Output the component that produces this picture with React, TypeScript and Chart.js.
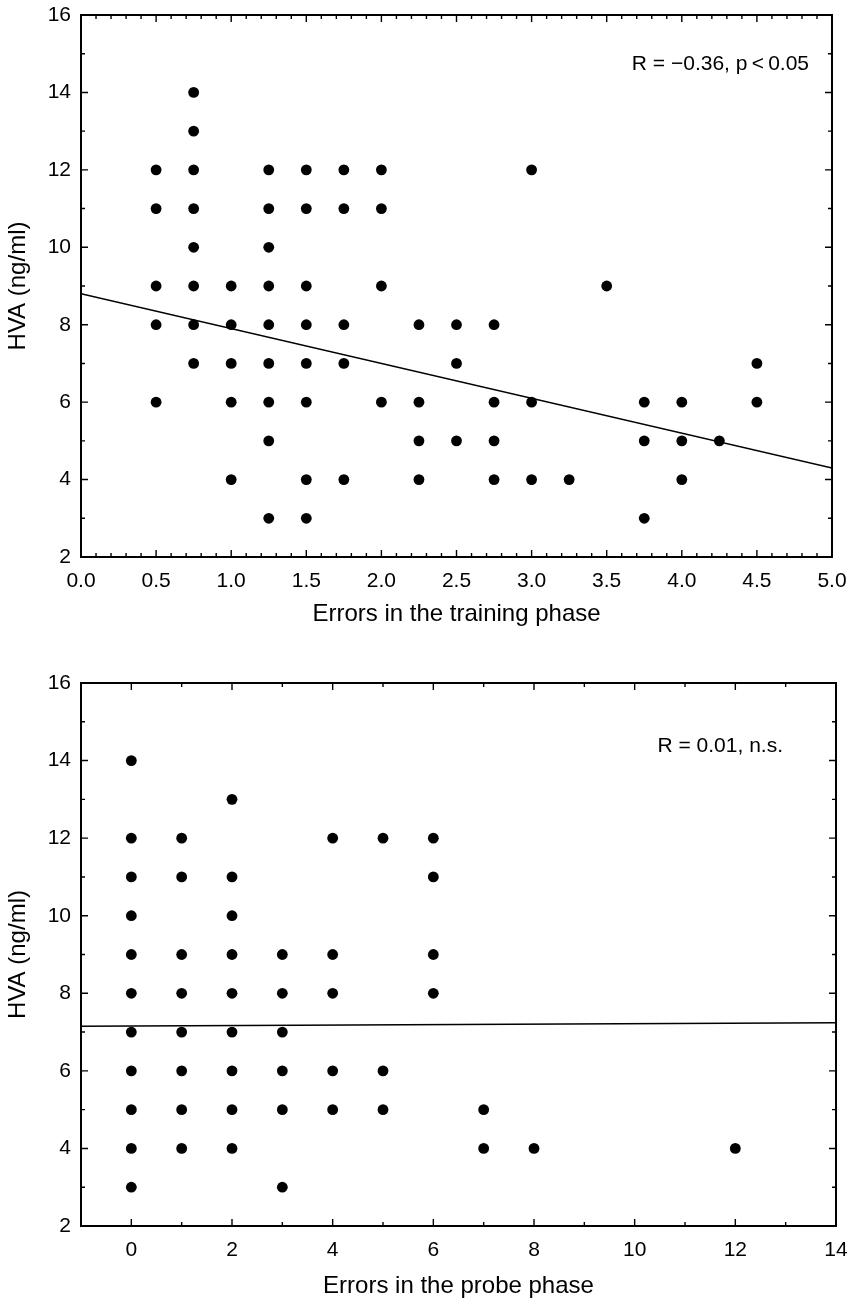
import { useEffect, useRef } from "react";
import { Chart, registerables } from "chart.js";

Chart.register(...registerables);

const FONT_FAMILY = "'Liberation Sans', Arial, Helvetica, sans-serif";

// ---------- Panel A: errors in the training phase ----------
const trainingErrors = [0.5, 0.75, 1.0, 1.25, 1.5, 1.75, 2.0, 2.25, 2.5, 2.75, 3.0, 3.25, 3.5, 3.75, 4.0, 4.25, 4.5];
const trainingHVA = [
  [12, 11, 9, 8, 6],
  [14, 13, 12, 11, 10, 9, 8, 7],
  [9, 8, 7, 6, 4],
  [12, 11, 10, 9, 8, 7, 6, 5, 3],
  [12, 11, 9, 8, 7, 6, 4, 3],
  [12, 11, 8, 7, 4],
  [12, 11, 9, 6],
  [8, 6, 5, 4],
  [8, 7, 5],
  [8, 6, 5, 4],
  [12, 6, 4],
  [4],
  [9],
  [6, 5, 3],
  [6, 5, 4],
  [5],
  [7, 6],
];
const trainingFitX = [0, 5];
const trainingFitY = [8.8, 4.3];
const trainingXTicks = [0, 0.5, 1.0, 1.5, 2.0, 2.5, 3.0, 3.5, 4.0, 4.5, 5.0];
const trainingLabel = "Errors in the training phase";
const trainingStat = "R = \u22120.36, p\u2009<\u20090.05";

// ---------- Panel B: errors in the probe phase ----------
const probeErrors = [0, 1, 2, 3, 4, 5, 6, 7, 8, 12];
const probeHVA = [
  [14, 12, 11, 10, 9, 8, 7, 6, 5, 4, 3],
  [12, 11, 9, 8, 7, 6, 5, 4],
  [13, 11, 10, 9, 8, 7, 6, 5, 4],
  [9, 8, 7, 6, 5, 3],
  [12, 9, 8, 6, 5],
  [12, 6, 5],
  [12, 11, 9, 8],
  [5, 4],
  [4],
  [4],
];
const probeFitX = [-1, 14];
const probeFitY = [7.15, 7.24];
const probeXTicks = [0, 2, 4, 6, 8, 10, 12, 14];
const probeLabel = "Errors in the probe phase";
const probeStat = "R = 0.01, n.s.";

// ---------- shared ----------
const hvaTicks = [2, 4, 6, 8, 10, 12, 14, 16];
const hvaLabel = "HVA (ng/ml)";

const frameTicksPlugin = {
  id: "frameTicks",
  afterDatasetsDraw(chart: any, _args: any, opts: any) {
    const { ctx, chartArea } = chart;
    const { left, right, top, bottom } = chartArea;
    const xs = chart.scales.x;
    const ys = chart.scales.y;
    const steps = (min: number, max: number, step: number) => {
      const out: number[] = [];
      const n = Math.round((max - min) / step);
      for (let i = 0; i <= n; i++) out.push(min + i * step);
      return out;
    };
    const isMajor = (v: number, major: number) => Math.abs(v / major - Math.round(v / major)) < 1e-6;
    ctx.save();
    ctx.strokeStyle = "#000";
    ctx.lineWidth = 1.4;
    ctx.beginPath();
    for (const v of steps(xs.min, xs.max, opts.xMinor)) {
      const p = xs.getPixelForValue(v);
      const len = isMajor(v, opts.xMajor) ? opts.majorLen : opts.minorLen;
      ctx.moveTo(p, bottom);
      ctx.lineTo(p, bottom - len);
      ctx.moveTo(p, top);
      ctx.lineTo(p, top + len);
    }
    for (const v of steps(ys.min, ys.max, opts.yMinor)) {
      const p = ys.getPixelForValue(v);
      const len = isMajor(v, opts.yMajor) ? opts.majorLen : opts.minorLen;
      ctx.moveTo(left, p);
      ctx.lineTo(left + len, p);
      ctx.moveTo(right, p);
      ctx.lineTo(right - len, p);
    }
    ctx.stroke();
    ctx.lineWidth = 2;
    ctx.strokeRect(left, top, right - left, bottom - top);
    ctx.fillStyle = "#000";
    ctx.font = `${opts.textSize}px ${FONT_FAMILY}`;
    ctx.textAlign = "right";
    ctx.textBaseline = "middle";
    ctx.fillText(opts.text, right - opts.textRight, top + opts.textTop);
    ctx.restore();
  },
};

type PanelProps = {
  xs: number[];
  ys: number[][];
  fitX: number[];
  fitY: number[];
  xTicks: number[];
  xMin: number;
  xMax: number;
  xDecimals: number;
  xTitle: string;
  stat: string;
  height: number;
  top: number;
  padTop: number;
  padRight: number;
  xAxisHeight: number;
  titlePadBottom: number;
  xMinor: number;
  xMajor: number;
  textRight: number;
  textTop: number;
};

function Panel(p: PanelProps) {
  const ref = useRef<HTMLCanvasElement>(null);
  useEffect(() => {
    const points: { x: number; y: number }[] = [];
    p.xs.forEach((x, i) => p.ys[i].forEach((y) => points.push({ x, y })));
    const fit = p.fitX.map((x, i) => ({ x, y: p.fitY[i] }));
    const chart = new Chart(ref.current!, {
      type: "scatter",
      data: {
        datasets: [
          {
            data: fit,
            showLine: true,
            borderColor: "#000",
            borderWidth: 1.5,
            pointRadius: 0,
            pointHoverRadius: 0,
          } as any,
          {
            data: points,
            backgroundColor: "#000",
            borderColor: "#000",
            borderWidth: 0,
            pointRadius: 5.4,
            pointHoverRadius: 5.4,
          },
        ],
      },
      options: {
        responsive: false,
        animation: false,
        devicePixelRatio: 1,
        events: [],
        layout: {
          autoPadding: false,
          padding: { left: 0, right: p.padRight, top: p.padTop, bottom: 0 },
        } as any,
        plugins: {
          legend: { display: false },
          tooltip: { enabled: false },
          frameTicks: {
            xMinor: p.xMinor,
            xMajor: p.xMajor,
            yMinor: 1,
            yMajor: 2,
            majorLen: 7,
            minorLen: 4,
            text: p.stat,
            textSize: 21,
            textRight: p.textRight,
            textTop: p.textTop,
          },
        } as any,
        scales: {
          x: {
            type: "linear",
            min: p.xMin,
            max: p.xMax,
            grid: { display: false, drawTicks: false },
            border: { display: false },
            afterBuildTicks: (s: any) => {
              s.ticks = p.xTicks.map((v) => ({ value: v }));
            },
            afterFit: (s: any) => {
              s.height = p.xAxisHeight;
              s.paddingLeft = 0;
              s.paddingRight = 0;
            },
            ticks: {
              color: "#000",
              font: { family: FONT_FAMILY, size: 21 },
              padding: 12,
              maxRotation: 0,
              autoSkip: false,
              callback: (v: any) => Number(v).toFixed(p.xDecimals),
            },
            title: {
              display: true,
              text: p.xTitle,
              color: "#000",
              font: { family: FONT_FAMILY, size: 24, lineHeight: 1 },
              padding: { top: 0, bottom: p.titlePadBottom },
            },
          },
          y: {
            type: "linear",
            min: 2,
            max: 16,
            grid: { display: false, drawTicks: false },
            border: { display: false },
            afterBuildTicks: (s: any) => {
              s.ticks = hvaTicks.map((v) => ({ value: v }));
            },
            afterFit: (s: any) => {
              s.width = 81;
              s.paddingTop = 0;
              s.paddingBottom = 0;
            },
            ticks: {
              color: "#000",
              font: { family: FONT_FAMILY, size: 21 },
              padding: 10,
              autoSkip: false,
              callback: (v: any) => String(v),
            },
            title: {
              display: true,
              text: hvaLabel,
              color: "#000",
              font: { family: FONT_FAMILY, size: 24, lineHeight: 1 },
              padding: { top: 6, bottom: 0 },
            },
          },
        },
      },
      plugins: [frameTicksPlugin],
    });
    return () => chart.destroy();
  }, []);
  return (
    <div style={{ position: "absolute", left: 0, top: p.top, width: 849, height: p.height }}>
      <canvas ref={ref} width={849} height={p.height} style={{ display: "block" }} />
    </div>
  );
}

export default function App() {
  return (
    <div style={{ position: "absolute", left: 0, top: 0, width: 849, height: 1301, background: "#fff" }}>
      <Panel
        xs={trainingErrors}
        ys={trainingHVA}
        fitX={trainingFitX}
        fitY={trainingFitY}
        xTicks={trainingXTicks}
        xMin={0}
        xMax={5}
        xDecimals={1}
        xTitle={trainingLabel}
        stat={trainingStat}
        height={650}
        top={0}
        padTop={15}
        padRight={17}
        xAxisHeight={93}
        titlePadBottom={24}
        xMinor={0.1}
        xMajor={0.5}
        textRight={23}
        textTop={49}
      />
      <Panel
        xs={probeErrors}
        ys={probeHVA}
        fitX={probeFitX}
        fitY={probeFitY}
        xTicks={probeXTicks}
        xMin={-1}
        xMax={14}
        xDecimals={0}
        xTitle={probeLabel}
        stat={probeStat}
        height={651}
        top={650}
        padTop={33}
        padRight={13}
        xAxisHeight={75}
        titlePadBottom={3}
        xMinor={1}
        xMajor={2}
        textRight={53}
        textTop={63}
      />
    </div>
  );
}
